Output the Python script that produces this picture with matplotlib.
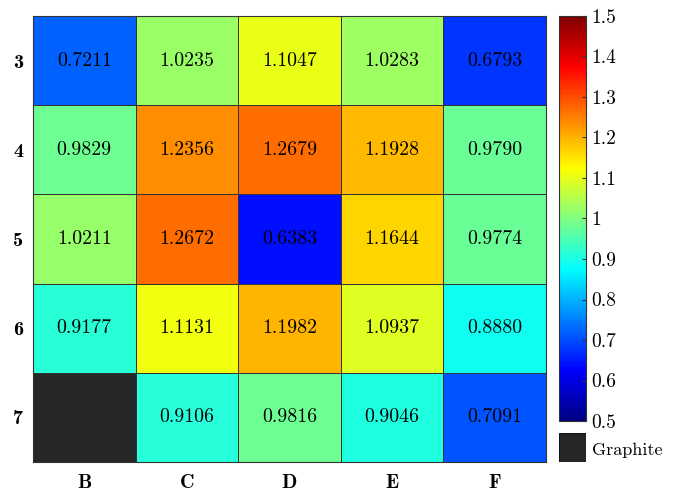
import numpy as np
import matplotlib
matplotlib.use("Agg")
import matplotlib.pyplot as plt
from matplotlib.patches import Rectangle
from matplotlib.colors import LinearSegmentedColormap

cols = ["B", "C", "D", "E", "F"]
rows = ["3", "4", "5", "6", "7"]
vals = [
    [0.7211, 1.0235, 1.1047, 1.0283, 0.6793],
    [0.9829, 1.2356, 1.2679, 1.1928, 0.9790],
    [1.0211, 1.2672, 0.6383, 1.1644, 0.9774],
    [0.9177, 1.1131, 1.1982, 1.0937, 0.8880],
    [np.nan, 0.9106, 0.9816, 0.9046, 0.7091],
]
cbar_ticks = [0.5, 0.6, 0.7, 0.8, 0.9, 1.0, 1.1, 1.2, 1.3, 1.4, 1.5]
cbar_labels = ["0.5", "0.6", "0.7", "0.8", "0.9", "1", "1.1", "1.2", "1.3", "1.4", "1.5"]
graphite_label = "Graphite"

reg = "cmr10"
bold = "cmb10"
plt.rcParams["axes.formatter.use_mathtext"] = True

# MATLAB-style jet
cdict = {
    "red":   [(0, 0, 0), (3/8, 0, 0), (5/8, 1, 1), (7/8, 1, 1), (1, 0.5, 0.5)],
    "green": [(0, 0, 0), (1/8, 0, 0), (3/8, 1, 1), (5/8, 1, 1), (7/8, 0, 0), (1, 0, 0)],
    "blue":  [(0, 0.5, 0.5), (1/8, 1, 1), (3/8, 1, 1), (5/8, 0, 0), (1, 0, 0)],
}
cmap = LinearSegmentedColormap("mjet", cdict, N=256)
cmap.set_bad("#262626")

fig = plt.figure(figsize=(6.77, 4.92), dpi=100)
ax = fig.add_axes([0.0487, 0.061, 0.7578, 0.9065])
data = np.ma.masked_invalid(np.array(vals))
mesh = ax.pcolormesh(data, cmap=cmap, vmin=0.5, vmax=1.5,
                     edgecolors="#333333", linewidth=0.6)
ax.set_xlim(0, 5)
ax.set_ylim(5, 0)
ax.set_xticks(np.arange(5) + 0.5)
ax.set_xticklabels(cols, fontfamily=bold, fontsize=14.5)
ax.set_yticks(np.arange(5) + 0.5)
ax.set_yticklabels(rows, fontfamily=bold, fontsize=14.5)
ax.tick_params(axis="y", length=0, pad=7)
ax.tick_params(axis="x", length=0, pad=9)
for s in ax.spines.values():
    s.set_color("#333333")
    s.set_linewidth(0.8)
for i in range(5):
    for j in range(5):
        v = vals[i][j]
        if not np.isnan(v):
            ax.text(j + 0.5, i + 0.5, f"{v:.4f}", ha="center", va="center",
                    fontfamily=reg, fontsize=14.3, color="black")

cax = fig.add_axes([0.8257, 0.1443, 0.0399, 0.8232])
cb = fig.colorbar(mesh, cax=cax, ticks=cbar_ticks)
cb.ax.set_yticklabels(cbar_labels, fontfamily=reg, fontsize=14)
cb.ax.tick_params(direction="in", length=3, width=0.8, color="#333333", pad=4)
cb.outline.set_edgecolor("#333333")

gax = fig.add_axes([0.8257, 0.061, 0.0399, 0.059])
gax.add_patch(Rectangle((0, 0), 1, 1, facecolor="#262626", edgecolor="#111111", linewidth=0.8))
gax.set_xlim(0, 1); gax.set_ylim(0, 1)
gax.axis("off")
fig.text(0.8257 + 0.0399 + 0.009, 0.061 + 0.024, graphite_label,
         fontfamily=reg, fontsize=13, va="center", ha="left")

fig.savefig("out.png", dpi=100)
